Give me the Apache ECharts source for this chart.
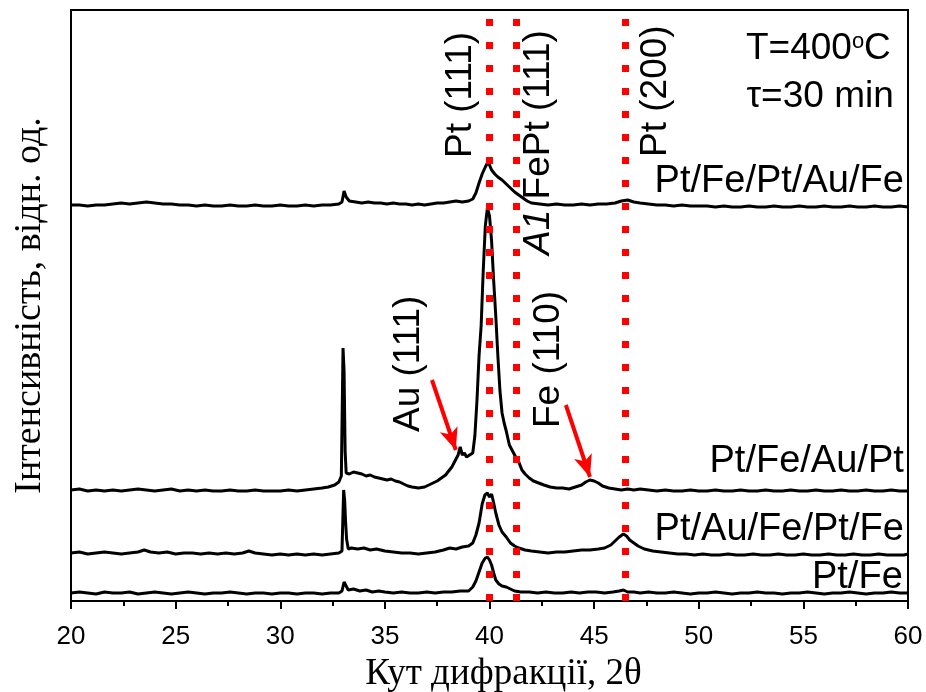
<!DOCTYPE html>
<html>
<head>
<meta charset="utf-8">
<script src="https://cdn.jsdelivr.net/npm/echarts@6/dist/echarts.min.js"></script>
<style>
  html, body { margin: 0; background: #fff; }
  #chart { width: 926px; height: 692px; }
</style>
</head>
<body>
<div id="chart"></div>
<script>
// XRD patterns, 2theta (deg) vs intensity (arb. units, stacked offsets)
const ptFe = [
  [20.0,8],[20.4,9],[20.8,8],[21.2,7],[21.6,9],[22.0,8],[22.4,8],[22.8,9],[23.2,7],[23.6,8],[24.0,9],[24.4,8],
  [24.8,7],[25.2,8],[25.6,9],[26.0,8],[26.4,7],[26.8,8],[27.2,8],[27.6,9],[28.0,8],[28.4,7],[28.8,8],[29.2,8],
  [29.6,7],[30.0,8],[30.4,8],[30.8,7],[31.2,8],[31.6,8],[32.0,7],[32.4,8],[32.8,8],[32.95,10],[33.05,19],[33.15,15],
  [33.25,11],[33.5,12],[33.8,10],[34.1,11],[34.4,9],[34.7,10],[35.0,9],[35.4,8],[35.8,9],[36.2,8],[36.6,8],[37.0,9],
  [37.4,8],[37.8,9],[38.2,9],[38.6,10],[39.0,10],[39.2,14],[39.35,20],[39.5,29],[39.65,38],[39.8,43],[39.9,44],[40.0,41],
  [40.1,36],[40.2,28],[40.3,21],[40.45,17],[40.6,15],[40.8,14],[41.0,12],[41.2,10],[41.5,9],[41.9,9],[42.3,8],[42.7,9],
  [43.1,8],[43.5,8],[43.9,9],[44.3,8],[44.7,9],[45.1,9],[45.5,8],[45.9,9],[46.2,10],[46.4,11],[46.6,9],[46.9,9],
  [47.2,8],[47.6,9],[48.0,8],[48.4,8],[48.8,9],[49.2,8],[49.6,7],[50.0,8],[50.4,8],[50.8,9],[51.2,8],[51.6,7],
  [52.0,8],[52.4,8],[52.8,9],[53.2,8],[53.6,8],[54.0,7],[54.4,8],[54.8,8],[55.2,9],[55.6,8],[56.0,7],[56.4,8],
  [56.8,8],[57.2,9],[57.6,8],[58.0,7],[58.4,8],[58.8,8],[59.2,9],[59.6,8],[60.0,8]
];
const ptAuFePtFe = [
  [20.0,48],[20.4,49],[20.8,47],[21.2,48],[21.6,49],[22.0,48],[22.4,47],[22.8,48],[23.2,49],[23.5,51],[23.8,49],[24.2,48],
  [24.6,49],[25.0,47],[25.4,48],[25.8,48],[26.2,47],[26.6,48],[27.0,47],[27.4,48],[27.8,47],[28.2,48],[28.5,50],[28.8,48],
  [29.2,47],[29.6,46],[30.0,47],[30.4,46],[30.8,47],[31.2,46],[31.6,47],[32.0,46],[32.4,47],[32.8,48],[32.95,50],[33.03,111],
  [33.08,100],[33.12,80],[33.17,62],[33.25,52],[33.4,53],[33.7,52],[34.0,53],[34.3,51],[34.6,52],[35.0,50],[35.4,49],[35.8,48],
  [36.2,48],[36.6,47],[37.0,48],[37.4,49],[37.8,51],[38.1,53],[38.4,52],[38.7,54],[39.0,55],[39.2,58],[39.35,66],[39.5,78],
  [39.65,97],[39.78,106],[39.9,108],[40.0,104],[40.1,107],[40.2,98],[40.3,88],[40.45,76],[40.6,69],[40.8,64],[41.0,58],[41.2,55],
  [41.4,53],[41.7,51],[42.0,50],[42.4,49],[42.8,48],[43.2,49],[43.6,49],[44.0,50],[44.4,51],[44.8,51],[45.2,52],[45.5,53],
  [45.8,56],[46.0,60],[46.2,64],[46.4,67],[46.55,65],[46.7,61],[46.9,58],[47.1,55],[47.4,52],[47.8,50],[48.2,49],[48.6,48],
  [49.0,47],[49.4,47],[49.8,46],[50.2,47],[50.6,46],[51.0,46],[51.4,47],[51.8,46],[52.2,46],[52.6,47],[53.0,46],[53.4,46],
  [53.8,47],[54.2,46],[54.6,46],[55.0,47],[55.4,46],[55.8,46],[56.2,47],[56.6,46],[57.0,46],[57.4,47],[57.8,46],[58.2,46],
  [58.6,47],[59.0,46],[59.4,46],[59.8,46],[60.0,47]
];
const ptFeAuPt = [
  [20.0,111],[20.4,112],[20.8,110],[21.2,111],[21.6,110],[22.0,111],[22.4,110],[22.8,111],[23.2,112],[23.6,111],[24.0,110],[24.4,111],
  [24.8,112],[25.2,110],[25.6,111],[26.0,110],[26.4,111],[26.8,110],[27.2,110],[27.6,111],[28.0,110],[28.4,110],[28.8,111],[29.2,110],
  [29.6,110],[30.0,110],[30.4,111],[30.8,110],[31.2,111],[31.6,112],[32.0,113],[32.3,114],[32.6,116],[32.8,119],[32.92,125],[33.0,253],
  [33.05,230],[33.1,150],[33.15,128],[33.3,127],[33.5,129],[33.7,128],[33.9,127],[34.1,125],[34.3,126],[34.5,124],[34.7,123],[34.9,122],
  [35.1,121],[35.3,122],[35.5,120],[35.7,119],[35.9,117],[36.1,115],[36.3,114],[36.6,113],[36.9,114],[37.1,116],[37.3,118],[37.5,120],
  [37.7,123],[37.9,126],[38.05,130],[38.2,134],[38.35,140],[38.5,146],[38.6,154],[38.7,146],[38.8,148],[38.9,144],[39.05,146],[39.2,148],
  [39.3,165],[39.4,200],[39.5,245],[39.6,275],[39.7,330],[39.8,375],[39.9,393],[40.0,385],[40.1,360],[40.2,320],[40.3,285],[40.4,245],
  [40.5,210],[40.6,188],[40.7,178],[40.8,170],[40.95,156],[41.1,150],[41.25,144],[41.4,139],[41.55,131],[41.7,127],[41.9,123],[42.1,120],
  [42.35,118],[42.6,116],[42.9,114],[43.2,113],[43.5,113],[43.8,112],[44.1,114],[44.4,116],[44.6,119],[44.8,121],[45.0,120],[45.2,118],
  [45.4,115],[45.7,113],[46.0,112],[46.3,111],[46.6,112],[46.9,111],[47.2,112],[47.6,111],[48.0,110],[48.4,111],[48.8,110],[49.2,110],
  [49.6,111],[50.0,110],[50.4,110],[50.8,111],[51.2,110],[51.6,110],[52.0,111],[52.4,110],[52.8,110],[53.2,111],[53.6,110],[54.0,110],
  [54.4,111],[54.8,110],[55.2,110],[55.6,111],[56.0,110],[56.4,110],[56.8,111],[57.2,110],[57.6,110],[58.0,111],[58.4,110],[58.8,110],
  [59.2,111],[59.6,110],[60.0,110]
];
const ptFePtAuFe = [
  [20.0,396],[20.4,396],[20.8,395],[21.2,396],[21.6,396],[22.0,397],[22.4,398],[22.8,397],[23.2,398],[23.6,399],[24.0,398],[24.4,397],
  [24.8,397],[25.2,396],[25.6,396],[26.0,395],[26.4,396],[26.8,395],[27.2,395],[27.6,396],[28.0,395],[28.4,395],[28.8,396],[29.2,395],
  [29.6,395],[30.0,396],[30.4,395],[30.8,395],[31.2,396],[31.6,395],[32.0,396],[32.4,396],[32.8,397],[32.95,399],[33.05,410],[33.15,404],
  [33.3,400],[33.6,399],[33.9,398],[34.2,399],[34.5,398],[34.8,398],[35.1,397],[35.4,398],[35.7,397],[36.0,397],[36.3,396],[36.6,397],
  [36.9,396],[37.2,397],[37.5,398],[37.8,398],[38.1,399],[38.4,400],[38.7,399],[39.0,400],[39.2,402],[39.35,408],[39.5,418],[39.65,427],
  [39.8,434],[39.9,438],[40.0,436],[40.1,431],[40.25,427],[40.4,424],[40.6,421],[40.8,417],[41.0,413],[41.2,409],[41.4,406],[41.6,403],
  [41.8,400],[42.0,398],[42.4,397],[42.8,396],[43.2,397],[43.6,396],[44.0,396],[44.4,397],[44.8,396],[45.2,397],[45.6,397],[46.0,398],
  [46.3,400],[46.6,401],[46.9,399],[47.2,398],[47.6,397],[48.0,396],[48.4,396],[48.8,395],[49.2,396],[49.6,395],[50.0,395],[50.4,395],
  [50.8,394],[51.2,395],[51.6,394],[52.0,394],[52.4,395],[52.8,394],[53.2,394],[53.6,395],[54.0,394],[54.4,394],[54.8,395],[55.2,394],
  [55.6,394],[56.0,395],[56.4,394],[56.8,394],[57.2,395],[57.6,394],[58.0,394],[58.4,395],[58.8,394],[59.2,394],[59.6,395],[60.0,394]
];

// reference peak positions (red dotted lines)
const refLines = [40.0, 41.3, 46.5];
// arrows: [from, to] in data coords
const arrows = [
  [[37.25, 221], [38.39, 151]],
  [[43.65, 196], [44.8, 124]]
];
// rotated peak labels: text, [x, y] where the text starts
const peakLabels = [
  { text: 'Pt (111)', at: [38.63, 443] },
  { text: '{i|A1} FePt (111)', at: [42.36, 346] },
  { text: 'Pt (200)', at: [47.95, 444] },
  { text: 'Au (111)', at: [36.15, 169] },
  { text: 'Fe (110)', at: [42.84, 173] }
];
// sample names, right aligned
const sampleLabels = [
  { text: 'Pt/Fe/Pt/Au/Fe', at: [59.8, 419] },
  { text: 'Pt/Fe/Au/Pt', at: [59.8, 139] },
  { text: 'Pt/Au/Fe/Pt/Fe', at: [59.8, 71] },
  { text: 'Pt/Fe', at: [59.75, 23] }
];
const condLabels = [
  { text: 'T=400{sup|o}C', at: [59.18, 552] },
  { text: 'τ=30 min', at: [59.32, 504] }
];

const chart = echarts.init(document.getElementById('chart'));

function trace(data) {
  return {
    type: 'line',
    data: data,
    showSymbol: false,
    symbol: 'none',
    silent: true,
    lineStyle: { color: '#000', width: 3 },
    z: 2
  };
}

let option = {
  animation: false,
  backgroundColor: '#fff',
  grid: {
    left: 71, right: 18, top: 10, bottom: 91,
    outerBoundsMode: 'none',
    show: true, borderColor: '#000', borderWidth: 2
  },
  xAxis: {
    type: 'value',
    min: 20, max: 60, interval: 5,
    axisLine: { show: true, lineStyle: { color: '#000', width: 2 } },
    axisTick: { show: true, inside: false, length: 8, lineStyle: { color: '#000', width: 2 } },
    minorTick: { show: true, splitNumber: 2, length: 5, lineStyle: { color: '#000', width: 2 } },
    splitLine: { show: false },
    axisLabel: { color: '#000', fontSize: 26, fontFamily: 'Liberation Sans', margin: 23 },
    name: 'Кут дифракції, 2θ',
    nameLocation: 'middle',
    nameGap: 55,
    nameTextStyle: { color: '#000', fontSize: 37, fontFamily: 'Liberation Serif', padding: [0, 0, 0, 28] }
  },
  yAxis: {
    type: 'value',
    min: 0, max: 591,
    axisLine: { show: true, lineStyle: { color: '#000', width: 2 } },
    axisTick: { show: false },
    axisLabel: { show: false },
    splitLine: { show: false },
    name: 'Інтенсивність, відн. од.',
    nameLocation: 'middle',
    nameGap: 22,
    nameTextStyle: { color: '#000', fontSize: 38, fontFamily: 'Liberation Serif' }
  },
  series: [
    trace(ptFe),
    trace(ptAuFePtFe),
    trace(ptFeAuPt),
    trace(ptFePtAuFe),
    {
      type: 'line',
      data: [],
      z: 5,
      silent: true,
      markLine: {
        silent: true,
        animation: false,
        symbol: ['none', 'none'],
        label: { show: false },
        lineStyle: { color: '#ff0000', width: 7, type: [7, 16], cap: 'butt' },
        data: refLines.map(v => ({ xAxis: v }))
      }
    },
    {
      type: 'line',
      data: [],
      z: 6,
      silent: true,
      markLine: {
        silent: true,
        animation: false,
        label: { show: false },
        lineStyle: { color: '#ff0000', width: 4, type: 'solid' },
        data: arrows.map(a => [
          { coord: a[0], symbol: 'none' },
          { coord: a[1], symbol: 'arrow', symbolSize: [14, 22] }
        ])
      }
    }
  ]
};
chart.setOption(option);

// text annotations placed from data coordinates
const graphics = [];
peakLabels.forEach(l => {
  const p = chart.convertToPixel({ gridIndex: 0 }, l.at);
  graphics.push({
    type: 'text', x: p[0], y: p[1], rotation: Math.PI / 2, z: 10,
    style: {
      text: l.text, fill: '#000', font: '37px "Liberation Sans"',
      textAlign: 'left', textVerticalAlign: 'middle',
      rich: { i: { fontStyle: 'italic', fontSize: 37, fontFamily: 'Liberation Sans' } }
    }
  });
});
sampleLabels.forEach(l => {
  const p = chart.convertToPixel({ gridIndex: 0 }, l.at);
  graphics.push({
    type: 'text', x: p[0], y: p[1], z: 10,
    style: {
      text: l.text, fill: '#000', font: '38px "Liberation Sans"',
      textAlign: 'right', textVerticalAlign: 'middle'
    }
  });
});
condLabels.forEach(l => {
  const p = chart.convertToPixel({ gridIndex: 0 }, l.at);
  graphics.push({
    type: 'text', x: p[0], y: p[1], z: 10,
    style: {
      text: l.text, fill: '#000', font: '37px "Liberation Sans"',
      textAlign: 'right', textVerticalAlign: 'middle',
      rich: { sup: { fontSize: 22, verticalAlign: 'top', fontFamily: 'Liberation Sans' } }
    }
  });
});
chart.setOption({ graphic: graphics });
</script>
</body>
</html>
